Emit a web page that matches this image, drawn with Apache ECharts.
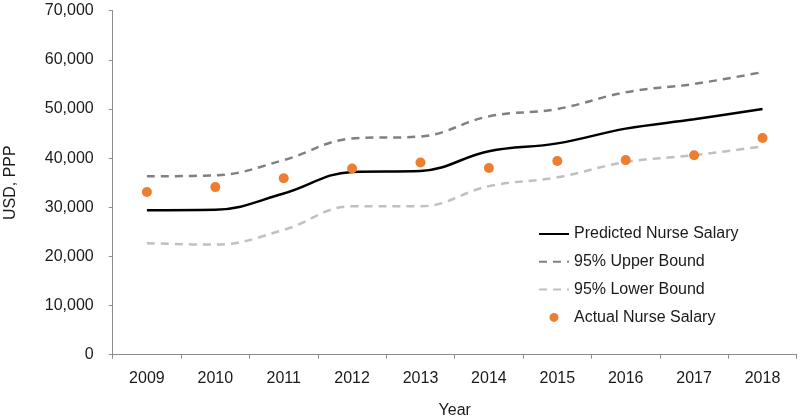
<!DOCTYPE html>
<html>
<head>
<meta charset="utf-8">
<script src="https://cdn.jsdelivr.net/npm/echarts@6/dist/echarts.min.js"></script>
<style>html,body{margin:0;padding:0;background:#fff;}#c{width:800px;height:419px;}</style>
</head>
<body>
<div id="c"></div>
<script>
var years = ['2009','2010','2011','2012','2013','2014','2015','2016','2017','2018'];
var predicted = [29400, 29500, 32800, 37200, 37400, 41400, 43000, 46000, 47900, 50000];
var upper = [36300, 36500, 39600, 44000, 44400, 48500, 50000, 53400, 55100, 57500];
var lower = [22700, 22400, 25400, 30200, 30200, 34300, 36100, 39200, 40600, 42400];
var actual = [33100, 34100, 35900, 37900, 39100, 38000, 39400, 39600, 40600, 44100];
var yTicks = [0, 10000, 20000, 30000, 40000, 50000, 60000, 70000];

var font = 'Liberation Sans, Arial, sans-serif';
var chart = echarts.init(document.getElementById('c'), null, {renderer: 'canvas'});
chart.setOption({
  animation: false,
  backgroundColor: '#fff',
  textStyle: {fontFamily: font},
  grid: {left: 112.7, right: 3.3, top: 10.7, bottom: 64.3, containLabel: false, outerBoundsMode: 'none'},
  legend: {
    orient: 'vertical', left: 533, top: 221,
    itemWidth: 30, itemHeight: 9, itemGap: 11.8,
    textStyle: {fontFamily: font, fontSize: 16, color: '#1a1a1a'},
    data: [
      {name: 'Predicted Nurse Salary', itemStyle: {opacity: 0}},
      {name: '95% Upper Bound', itemStyle: {opacity: 0}},
      {name: '95% Lower Bound', itemStyle: {opacity: 0}},
      {name: 'Actual Nurse Salary', icon: 'circle'}
    ]
  },
  xAxis: {
    type: 'category', data: years, boundaryGap: true,
    name: 'Year', nameLocation: 'middle', nameGap: 48,
    nameTextStyle: {fontFamily: font, fontSize: 16, color: '#1a1a1a'},
    axisLine: {lineStyle: {color: '#8c8c8c', width: 1}},
    axisTick: {show: true, length: 4, alignWithLabel: false, lineStyle: {color: '#8c8c8c'}},
    axisLabel: {fontFamily: font, fontSize: 16, color: '#1a1a1a', margin: 16},
    splitLine: {show: false}
  },
  yAxis: {
    type: 'value', min: 0, max: 70000, interval: 10000,
    name: 'USD, PPP', nameLocation: 'middle', nameGap: 94, nameRotate: 90,
    nameTextStyle: {fontFamily: font, fontSize: 16, color: '#1a1a1a'},
    axisLine: {show: true, lineStyle: {color: '#8c8c8c', width: 1}},
    axisTick: {show: true, length: 4, lineStyle: {color: '#8c8c8c'}},
    axisLabel: {fontFamily: font, fontSize: 16, color: '#1a1a1a', margin: 19,
      formatter: function (v) { return yTicks.indexOf(v) >= 0 ? v.toLocaleString('en-US') : ''; }},
    splitLine: {show: false}
  },
  series: [
    {name: 'Predicted Nurse Salary', type: 'line', data: predicted, smooth: 0.4,
     symbol: 'none', lineStyle: {color: '#000', width: 2.5}, itemStyle: {color: '#000'}, z: 4},
    {name: '95% Upper Bound', type: 'line', data: upper, smooth: 0.4,
     symbol: 'none', lineStyle: {color: '#808080', width: 2.5, type: [8, 6]}, itemStyle: {color: '#808080'}, z: 3},
    {name: '95% Lower Bound', type: 'line', data: lower, smooth: 0.4,
     symbol: 'none', lineStyle: {color: '#c0c0c0', width: 2.5, type: [8, 6]}, itemStyle: {color: '#c0c0c0'}, z: 3},
    {name: 'Actual Nurse Salary', type: 'scatter', data: actual, symbol: 'circle', symbolSize: 10,
     itemStyle: {color: '#ed7d31', opacity: 1}, z: 5}
  ]
});
</script>
</body>
</html>
